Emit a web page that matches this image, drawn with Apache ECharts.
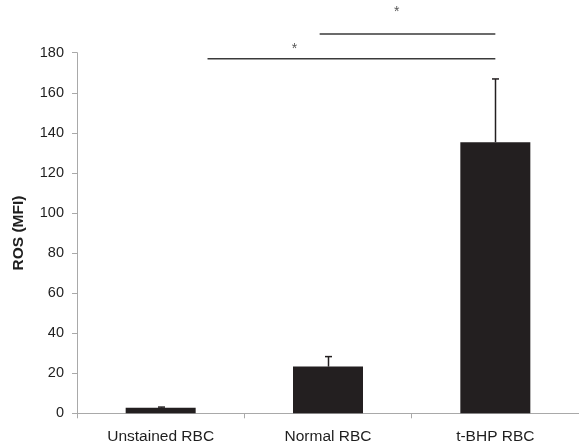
<!DOCTYPE html>
<html>
<head>
<meta charset="utf-8">
<script src="https://cdn.jsdelivr.net/npm/echarts@6/dist/echarts.min.js"></script>
<style>html,body{margin:0;padding:0;background:#fff;}#c{width:579px;height:448px;}</style>
</head>
<body>
<div id="c"></div>
<script>
// ---- data ----
var categories = ['Unstained RBC', 'Normal RBC', 't-BHP RBC'];
var means = [2.8, 23.3, 135.3];
var errors = [0.3, 5.0, 31.6];
var yTicks = { min: 0, max: 180, step: 20 };
// significance brackets: [category position, level]
var bracketA = [[0.28, 177.0], [2.0, 177.0]];
var bracketB = [[0.95, 189.3], [2.0, 189.3]];
var stars = [[0.80, 182.0], [1.41, 200.2]];

var chart = echarts.init(document.getElementById('c'), null, { renderer: 'canvas' });
var axisGray = '#a9a9a9';
var textCol = '#1e1e1e';

chart.setOption({
  animation: false,
  backgroundColor: '#ffffff',
  grid: { left: 77, right: -3.5, top: 52.7, bottom: 34.7, containLabel: false },
  xAxis: [
    {
      type: 'category',
      data: categories,
      boundaryGap: true,
      axisLine: { show: true, onZero: false, lineStyle: { color: axisGray, width: 1 } },
      axisTick: { show: true, inside: false, length: 5, lineStyle: { color: axisGray } },
      axisLabel: { color: textCol, fontFamily: 'Liberation Sans, Arial, sans-serif', fontSize: 15.5, margin: 15 },
      splitLine: { show: false }
    },
    {
      type: 'value', min: -0.5, max: 2.5, show: false, gridIndex: 0
    }
  ],
  yAxis: {
    type: 'value',
    min: yTicks.min, max: yTicks.max, interval: yTicks.step,
    name: 'ROS (MFI)',
    nameLocation: 'middle',
    nameGap: 50,
    nameTextStyle: { color: textCol, fontFamily: 'Liberation Sans, Arial, sans-serif', fontSize: 15.5, fontWeight: 'bold' },
    axisLine: { show: true, onZero: false, lineStyle: { color: axisGray, width: 1 } },
    axisTick: { show: true, inside: false, length: 5, lineStyle: { color: axisGray } },
    axisLabel: { color: textCol, fontFamily: 'Liberation Sans, Arial, sans-serif', fontSize: 14.5, margin: 13 },
    splitLine: { show: false }
  },
  series: [
    {
      type: 'bar',
      data: means,
      barWidth: 70,
      itemStyle: { color: '#231f20' },
      z: 2
    },
    {
      type: 'custom',
      xAxisIndex: 0,
      data: means.map(function (m, i) { return [i, m, m + errors[i]]; }),
      renderItem: function (params, api) {
        var base = api.coord([api.value(0), api.value(1)]);
        var top = api.coord([api.value(0), api.value(2)]);
        var x = Math.round(base[0]) + 0.5;
        var half = 3.5;
        return {
          type: 'group',
          children: [
            { type: 'line', shape: { x1: x, y1: base[1], x2: x, y2: top[1] }, style: { stroke: '#231f20', lineWidth: 1.5 } },
            { type: 'line', shape: { x1: x - half, y1: top[1], x2: x + half, y2: top[1] }, style: { stroke: '#231f20', lineWidth: 1.5 } }
          ]
        };
      },
      z: 3
    },
    {
      type: 'line', xAxisIndex: 1, data: bracketA, symbol: 'none', clip: false,
      lineStyle: { color: '#3a3a3a', width: 1.5 }, silent: true
    },
    {
      type: 'line', xAxisIndex: 1, data: bracketB, symbol: 'none', clip: false,
      lineStyle: { color: '#3a3a3a', width: 1.5 }, silent: true
    },
    {
      type: 'scatter', xAxisIndex: 1, data: stars, symbolSize: 0, clip: false, silent: true,
      label: {
        show: true, position: 'inside', formatter: '*',
        color: '#2a2a2a', fontFamily: 'Liberation Sans, Arial, sans-serif', fontSize: 14
      }
    }
  ]
});
</script>
</body>
</html>
